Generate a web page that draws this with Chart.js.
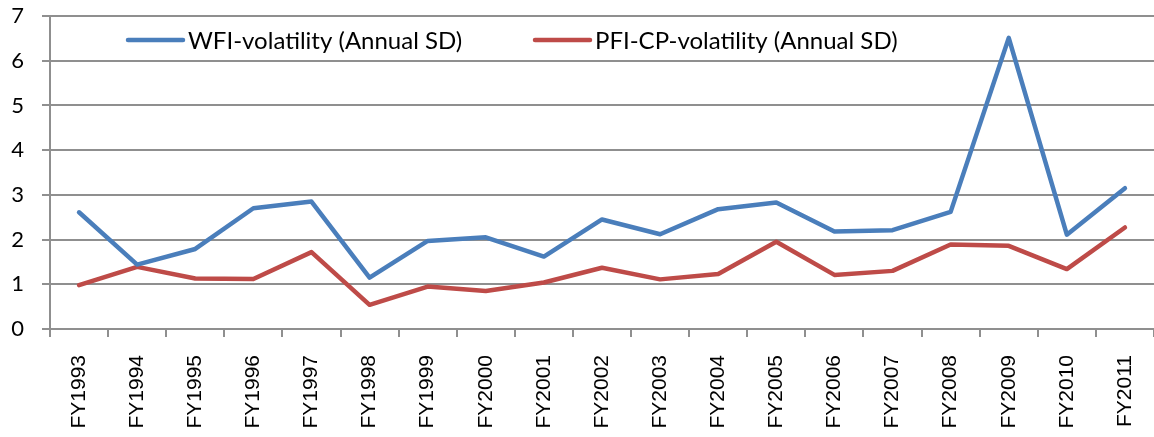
<!DOCTYPE html>
<html>
<head>
<meta charset="utf-8">
<script src="https://cdn.jsdelivr.net/npm/chart.js@4/dist/chart.umd.min.js"></script>
<style>
  html, body { margin: 0; padding: 0; background: #ffffff; }
  #wrap { width: 1154px; height: 437px; }
</style>
</head>
<body>
<div id="wrap"><canvas id="c" width="1154" height="437"></canvas></div>
<script>
const categories = ['FY1993','FY1994','FY1995','FY1996','FY1997','FY1998','FY1999','FY2000','FY2001','FY2002','FY2003','FY2004','FY2005','FY2006','FY2007','FY2008','FY2009','FY2010','FY2011'];
const wfiVolatility = [2.61,1.44,1.79,2.70,2.85,1.15,1.97,2.05,1.62,2.45,2.12,2.68,2.83,2.18,2.21,2.62,6.51,2.11,3.15];
const pfiCpVolatility = [0.98,1.39,1.13,1.12,1.72,0.54,0.95,0.85,1.04,1.37,1.11,1.23,1.95,1.21,1.30,1.89,1.86,1.34,2.27];
const seriesLabels = ['WFI-volatility (Annual SD)', 'PFI-CP-volatility (Annual SD)'];
const yMin = 0, yMax = 7, yStep = 1;

const GRID = '#8f8f8f';
const BLUE = '#4a7ebb';
const RED = '#be4b48';

const legendPlugin = {
  id: 'insideLegend',
  afterDatasetsDraw(chart) {
    const ctx = chart.ctx;
    const a = chart.chartArea;
    const offsets = [{line: 78, text: 138}, {line: 485, text: 545}];
    const y = a.top + 24;
    ctx.save();
    chart.data.datasets.forEach((ds, i) => {
      const o = offsets[i];
      ctx.strokeStyle = ds.borderColor;
      ctx.lineWidth = ds.borderWidth;
      ctx.lineCap = 'round';
      ctx.beginPath();
      ctx.moveTo(a.left + o.line, y);
      ctx.lineTo(a.left + o.line + 55, y);
      ctx.stroke();
      ctx.fillStyle = '#000';
      ctx.font = '24px Lato';
      ctx.textBaseline = 'middle';
      ctx.textAlign = 'left';
      ctx.fillText(ds.label, a.left + o.text, y + 1);
    });
    ctx.restore();
  }
};

new Chart(document.getElementById('c'), {
  type: 'line',
  data: {
    labels: categories,
    datasets: [
      { label: seriesLabels[0], data: wfiVolatility, borderColor: BLUE, backgroundColor: BLUE, borderWidth: 4.5, pointRadius: 0, tension: 0, borderCapStyle: 'round', borderJoinStyle: 'round' },
      { label: seriesLabels[1], data: pfiCpVolatility, borderColor: RED, backgroundColor: RED, borderWidth: 4.5, pointRadius: 0, tension: 0, borderCapStyle: 'round', borderJoinStyle: 'round' }
    ]
  },
  options: {
    responsive: false,
    animation: false,
    events: [],
    layout: { padding: { top: 16, right: -4, left: 0, bottom: 0 } },
    plugins: { legend: { display: false }, tooltip: { enabled: false } },
    scales: {
      x: {
        offset: true,
        grid: { offset: true, drawOnChartArea: false, drawTicks: true, tickLength: 8, color: GRID, lineWidth: 2 },
        border: { display: true, color: GRID, width: 2 },
        ticks: { minRotation: 90, maxRotation: 90, autoSkip: false, padding: 18, color: '#000', font: { family: 'Liberation Sans', size: 21 } },
        afterFit(scale) { scale.height = 108; scale.paddingLeft = 0; scale.paddingRight = 0; }
      },
      y: {
        min: yMin, max: yMax,
        grid: { color: GRID, lineWidth: 2, tickLength: 8, drawTicks: true },
        border: { display: true, color: GRID, width: 2 },
        ticks: { stepSize: yStep, padding: 18, color: '#000', font: { family: 'Lato', size: 22 } },
        afterFit(scale) { scale.width = 50; scale.paddingTop = 0; scale.paddingBottom = 0; }
      }
    }
  },
  plugins: [legendPlugin]
});
</script>
</body>
</html>
